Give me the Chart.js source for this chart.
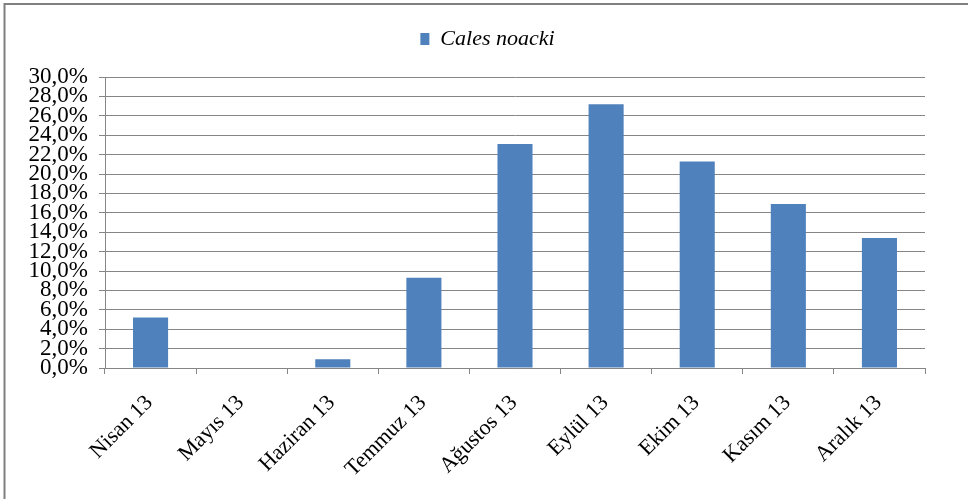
<!DOCTYPE html>
<html>
<head>
<meta charset="utf-8">
<script src="https://cdn.jsdelivr.net/npm/chart.js@4/dist/chart.umd.min.js"></script>
<style>
  html, body { margin: 0; padding: 0; background: #ffffff; }
  #wrap { width: 968px; height: 499px; position: relative; }
</style>
</head>
<body>
<div id="wrap"><canvas id="c" width="968" height="499"></canvas></div>
<script>
// Monthly share of Cales noacki (%)
const months = ['Nisan 13', 'Mayıs 13', 'Haziran 13', 'Temmuz 13', 'Ağustos 13', 'Eylül 13', 'Ekim 13', 'Kasım 13', 'Aralık 13'];
const calesNoacki = [5.2, 0.0, 0.9, 9.3, 23.1, 27.2, 21.3, 16.9, 13.4];
const seriesName = 'Cales noacki';
const yTickMin = 0;
const yTickMax = 30;
const yTickStep = 2;

const gridGray = '#868686';
const barBlue = '#4F81BD';
const serif = "'Liberation Serif', 'Times New Roman', serif";

// White page with the grey frame along the top and left edges
const framePlugin = {
  id: 'frame',
  beforeDraw(chart) {
    const ctx = chart.ctx;
    ctx.save();
    ctx.fillStyle = '#ffffff';
    ctx.fillRect(0, 0, chart.width, chart.height);
    ctx.strokeStyle = '#808080';
    ctx.lineWidth = 2;
    ctx.beginPath();
    ctx.moveTo(4.5, chart.height);
    ctx.lineTo(4.5, 4);
    ctx.lineTo(chart.width, 4);
    ctx.stroke();
    ctx.restore();
  }
};

// Extra room under the legend, and a small nudge of the legend to the right
const legendSpacing = {
  id: 'legendSpacing',
  beforeLayout(chart) {
    const lg = chart.legend;
    if (lg && !lg._spaced) {
      const fit = lg.fit.bind(lg);
      lg.fit = function () { fit(); this.height += 17; };
      lg._spaced = true;
    }
  },
  afterLayout(chart) {
    const lg = chart.legend;
    if (lg) { lg.left += 20; lg.right += 20; }
  }
};

new Chart(document.getElementById('c'), {
  type: 'bar',
  data: {
    labels: months,
    datasets: [{
      label: seriesName,
      data: calesNoacki,
      backgroundColor: barBlue,
      borderWidth: 0,
      categoryPercentage: 1.0,
      barPercentage: 0.385
    }]
  },
  options: {
    responsive: false,
    animation: false,
    devicePixelRatio: 1,
    layout: { padding: { top: 20, left: 10, right: 43, bottom: 0 } },
    plugins: {
      legend: {
        position: 'top',
        labels: {
          font: { family: serif, size: 22, style: 'italic' },
          color: '#000000',
          boxWidth: 9,
          boxHeight: 12,
          padding: 8
        }
      },
      tooltip: { enabled: false }
    },
    scales: {
      x: {
        offset: true,
        grid: {
          offset: true,
          drawOnChartArea: false,
          color: gridGray,
          tickLength: 6
        },
        border: { color: gridGray, width: 1 },
        ticks: {
          font: { family: serif, size: 22 },
          color: '#000000',
          maxRotation: 45,
          minRotation: 45,
          autoSkip: false,
          padding: 16,
          labelOffset: -1
        },
        afterFit(scale) { scale.height = 131; }
      },
      y: {
        min: yTickMin,
        max: yTickMax,
        grid: {
          color: gridGray,
          tickLength: 6
        },
        border: { color: gridGray, width: 1 },
        ticks: {
          stepSize: yTickStep,
          autoSkip: false,
          font: { family: serif, size: 23 },
          color: '#000000',
          padding: 11,
          callback: (v) => v.toFixed(1).replace('.', ',') + '%'
        },
        afterFit(scale) { scale.width = 95; }
      }
    }
  },
  plugins: [framePlugin, legendSpacing]
});
</script>
</body>
</html>
